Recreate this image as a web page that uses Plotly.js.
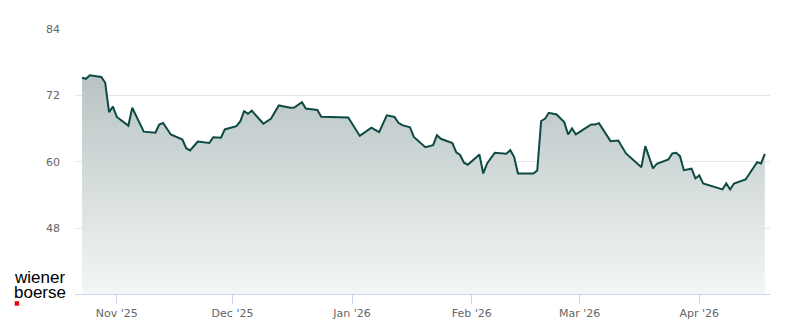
<!DOCTYPE html>
<html>
<head>
<meta charset="utf-8">
<script src="https://cdn.plot.ly/plotly-3.0.1.min.js"></script>
<style>
html,body{margin:0;padding:0;background:#fff;}
#chart{width:800px;height:324px;}
</style>
</head>
<body>
<div id="chart"></div>
<script>
const dates = [
  "2025-10-23","2025-10-24","2025-10-25","2025-10-28","2025-10-29","2025-10-30","2025-10-31",
  "2025-11-01","2025-11-04","2025-11-05","2025-11-08","2025-11-11","2025-11-12","2025-11-13",
  "2025-11-15","2025-11-18","2025-11-19","2025-11-20","2025-11-22","2025-11-25","2025-11-26",
  "2025-11-28","2025-11-29","2025-12-02","2025-12-03","2025-12-04","2025-12-05","2025-12-06",
  "2025-12-09","2025-12-10","2025-12-11","2025-12-13","2025-12-16","2025-12-17","2025-12-19",
  "2025-12-20","2025-12-23","2025-12-24","2025-12-31","2026-01-03","2026-01-06","2026-01-08",
  "2026-01-10","2026-01-12","2026-01-13","2026-01-14","2026-01-16","2026-01-17","2026-01-20",
  "2026-01-22","2026-01-23","2026-01-24","2026-01-27","2026-01-28","2026-01-29","2026-01-30",
  "2026-01-31","2026-02-03","2026-02-04","2026-02-05","2026-02-07","2026-02-10","2026-02-11",
  "2026-02-12","2026-02-13","2026-02-17","2026-02-18","2026-02-19","2026-02-20","2026-02-21",
  "2026-02-23","2026-02-25","2026-02-26","2026-02-27","2026-02-28","2026-03-02","2026-03-04",
  "2026-03-05","2026-03-06","2026-03-09","2026-03-11","2026-03-13","2026-03-17","2026-03-18",
  "2026-03-20","2026-03-21","2026-03-24","2026-03-25","2026-03-26","2026-03-27","2026-03-28",
  "2026-03-30","2026-03-31","2026-04-01","2026-04-02","2026-04-07","2026-04-08","2026-04-09",
  "2026-04-10","2026-04-13","2026-04-16","2026-04-17","2026-04-18"
];
const prices = [
  75.21,75.01,75.64,75.34,74.29,68.98,70.01,
  68.12,66.55,69.78,65.46,65.26,66.76,67.03,
  64.96,64.05,62.47,62.07,63.69,63.42,64.45,
  64.38,65.86,66.45,67.30,69.16,68.71,69.25,
  66.89,67.36,67.84,70.19,69.79,69.83,70.77,
  69.65,69.38,68.17,68.03,64.69,66.17,65.37,
  68.42,68.12,67.07,66.64,66.26,64.51,62.66,
  63.03,64.81,64.18,63.39,61.74,61.26,59.85,
  59.49,61.35,57.92,59.72,61.65,61.47,62.12,
  60.93,57.92,57.92,58.46,67.39,67.79,68.87,
  68.57,67.18,64.96,66.04,64.96,65.86,66.76,
  66.76,67.00,63.75,63.87,61.53,59.05,62.84,
  58.82,59.67,60.44,61.53,61.65,61.04,58.51,
  58.77,57.01,57.56,56.11,55.03,56.11,55.03,
  56.11,56.83,59.96,59.72,61.47
];
const yTicks = [48, 60, 72, 84];
const xTicks = ["2025-11-01","2025-12-01","2026-01-01","2026-02-01","2026-03-01","2026-04-01"];
const xTickLabels = ["Nov '25","Dec '25","Jan '26","Feb '26","Mar '26","Apr '26"];
const logoLines = ["wiener", "boerse"];

const trace = {
  x: dates,
  y: prices,
  type: 'scatter',
  mode: 'lines',
  line: {color: '#0e4a45', width: 2},
  fill: 'tozeroy',
  fillgradient: {
    type: 'vertical',
    start: 36.15,
    stop: 76,
    colorscale: [[0, '#f4f6f6'], [1, '#b6c3c2']]
  },
  hoverinfo: 'skip'
};

const logoFont = {family: 'Liberation Sans, Arial, sans-serif', size: 17, color: '#000000'};

const layout = {
  width: 800,
  height: 324,
  margin: {l: 75, r: 30, t: 29, b: 30, pad: 0},
  paper_bgcolor: '#ffffff',
  plot_bgcolor: '#ffffff',
  showlegend: false,
  hovermode: false,
  font: {family: 'DejaVu Sans, sans-serif', size: 11, color: '#666666'},
  xaxis: {
    type: 'date',
    range: ['2025-10-21 04:00', '2026-04-19 08:00'],
    tickvals: xTicks,
    ticktext: xTickLabels,
    showgrid: false,
    zeroline: false,
    showline: true,
    linecolor: '#ccd6eb',
    linewidth: 1,
    ticks: 'outside',
    ticklen: 9,
    tickcolor: '#ccd6eb',
    tickfont: {family: 'DejaVu Sans, sans-serif', size: 11, color: '#666666'}
  },
  yaxis: {
    range: [36.15, 84],
    tickvals: yTicks,
    showgrid: true,
    gridcolor: '#e6e6e6',
    gridwidth: 1,
    zeroline: false,
    showline: false,
    ticks: '',
    ticklabelstandoff: 14,
    tickfont: {family: 'DejaVu Sans, sans-serif', size: 11, color: '#666666'}
  },
  annotations: [
    {xref: 'paper', yref: 'paper', x: -0.089, y: 0.066, xanchor: 'left', yanchor: 'middle',
     height: 14, borderpad: 0, valign: 'middle',
     text: logoLines[0], showarrow: false, font: logoFont},
    {xref: 'paper', yref: 'paper', x: -0.089, y: 0.009, xanchor: 'left', yanchor: 'middle',
     height: 14, borderpad: 0, valign: 'middle',
     text: logoLines[1], showarrow: false, font: logoFont}
  ],
  shapes: [
    {type: 'rect', xref: 'paper', yref: 'paper', x0: -0.0868, x1: -0.0803, y0: -0.0442, y1: -0.0272,
     fillcolor: '#e2001a', line: {width: 0}}
  ]
};

Plotly.newPlot('chart', [trace], layout, {displayModeBar: false, staticPlot: true});
</script>
</body>
</html>
